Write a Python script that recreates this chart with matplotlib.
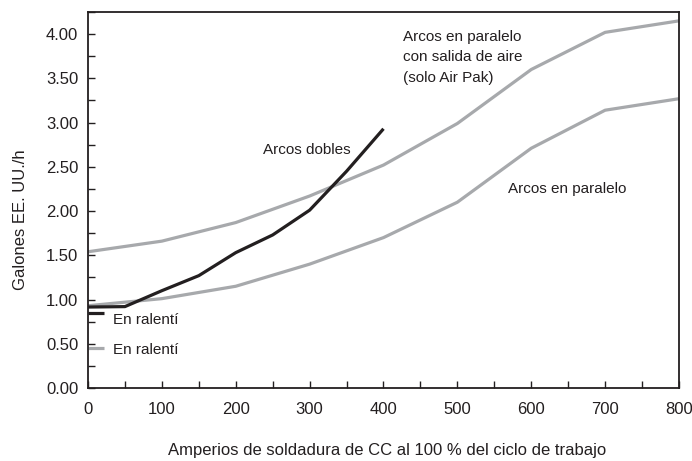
import matplotlib
matplotlib.use("Agg")
import matplotlib.pyplot as plt
from matplotlib.ticker import MultipleLocator, FormatStrFormatter

plt.rcParams['font.family'] = ["Liberation Sans", "DejaVu Sans"]

amps = [0, 100, 200, 300, 400, 500, 600, 700, 800]
airpak = [1.54, 1.66, 1.87, 2.17, 2.52, 2.99, 3.60, 4.02, 4.15]
parallel = [0.93, 1.01, 1.15, 1.40, 1.70, 2.10, 2.71, 3.14, 3.27]
amps_dual = [0, 50, 100, 150, 200, 250, 300, 350, 400]
dual = [0.915, 0.92, 1.10, 1.27, 1.53, 1.73, 2.01, 2.45, 2.93]
idle_dual = 0.85
idle_single = 0.45

TXT = "#231f20"
GRAY = "#a7a9ac"

fig = plt.figure(figsize=(6.92, 4.61), dpi=100)
ax = fig.add_axes([88/692, 1-388/461, (679-88)/692, (388-12)/461])

ax.plot(amps, airpak, color=GRAY, lw=2.3, solid_capstyle="butt")
ax.plot(amps, parallel, color=GRAY, lw=2.3, solid_capstyle="butt")
ax.plot(amps_dual, dual, color=TXT, lw=2.3, solid_capstyle="butt")
ax.plot([0, 22], [idle_dual, idle_dual], color=TXT, lw=2.3, solid_capstyle="butt", clip_on=False)
ax.plot([0, 22], [idle_single, idle_single], color=GRAY, lw=2.3, solid_capstyle="butt", clip_on=False)

fs = 11
ax.text(34, 0.765, "En ralentí", fontsize=fs, color=TXT, va="center", ha="left")
ax.text(34, 0.425, "En ralentí", fontsize=fs, color=TXT, va="center", ha="left")
ax.text(296, 2.69, "Arcos dobles", fontsize=fs, color=TXT, va="center", ha="center")
ax.text(427, 3.74, "Arcos en paralelo\ncon salida de aire\n(solo Air Pak)", fontsize=fs, color=TXT,
        va="center", ha="left", linespacing=1.6)
ax.text(568, 2.25, "Arcos en paralelo", fontsize=fs, color=TXT, va="center", ha="left")

ax.set_xlim(0, 800)
ax.set_ylim(0, 4.25)
ax.xaxis.set_major_locator(MultipleLocator(100))
ax.xaxis.set_minor_locator(MultipleLocator(50))
ax.yaxis.set_major_locator(MultipleLocator(0.5))
ax.yaxis.set_minor_locator(MultipleLocator(0.25))
ax.yaxis.set_major_formatter(FormatStrFormatter("%.2f"))
ax.tick_params(which="both", direction="in", length=5, width=1, color=TXT, labelcolor=TXT, labelsize=12)
ax.tick_params(axis="x", pad=10)
ax.tick_params(axis="y", pad=7)
for s in ax.spines.values():
    s.set_color(TXT)
    s.set_linewidth(1.3)

ax.set_xlabel("Amperios de soldadura de CC al 100 % del ciclo de trabajo", fontsize=12, color=TXT)
ax.xaxis.set_label_coords(0.506, -0.147)
ax.set_ylabel("Galones EE. UU./h", fontsize=12, color=TXT)
ax.yaxis.set_label_coords(-0.102, 0.447)

fig.savefig("out.png", dpi=100)
